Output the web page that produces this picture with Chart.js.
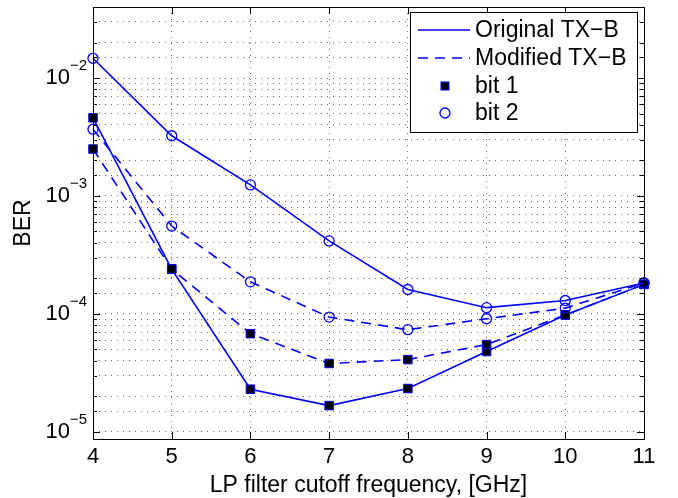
<!DOCTYPE html>
<html>
<head>
<meta charset="utf-8">
<script src="https://cdn.jsdelivr.net/npm/chart.js@4.4.0/dist/chart.umd.min.js"></script>
<style>
    html, body { margin: 0; padding: 0; background: #fff; }
    #wrap { width: 678px; height: 498px; }
</style>
</head>
<body>
<div id="wrap"><canvas id="berChart" width="678" height="498"></canvas></div>
<script>
// values
var cutoffGHz = [4, 5, 6, 7, 8, 9, 10, 11];
var origBit1 = [4.6e-3, 2.4e-4, 2.3e-5, 1.67e-5, 2.33e-5, 4.8e-5, 9.8e-5, 1.78e-4];
var origBit2 = [1.47e-2, 3.24e-3, 1.24e-3, 4.16e-4, 1.61e-4, 1.13e-4, 1.30e-4, 1.83e-4];
var modBit1 = [2.5e-3, 2.4e-4, 6.8e-5, 3.8e-5, 4.1e-5, 5.5e-5, 9.8e-5, 1.78e-4];
var modBit2 = [3.68e-3, 5.56e-4, 1.87e-4, 9.4e-5, 7.35e-5, 9.1e-5, 1.12e-4, 1.83e-4];

var yDecades = [-5, -4, -3, -2];
var legendLabels = ['Original TX\u2212B', 'Modified TX\u2212B', 'bit 1', 'bit 2'];
var xTitle = 'LP filter cutoff frequency, [GHz]';
var yTitle = 'BER';

var FONT = "'Liberation Sans', Arial, Helvetica, sans-serif";
var BLUE = '#0000ff';
var DASH = [10, 7];

function points(values) {
    let out = [];
    for (let i = 0; i < cutoffGHz.length; i++) {
        out.push({x: cutoffGHz[i], y: values[i]});
    }
    return out;
}

function series(label, values, dashed, square) {
    return {
        label: label,
        data: points(values),
        borderColor: BLUE,
        borderWidth: 1.6,
        borderDash: dashed ? DASH : [],
        pointStyle: square ? 'rect' : 'circle',
        pointRadius: square ? 6 : 5,
        pointBorderWidth: square ? 1 : 1.3,
        pointBorderColor: BLUE,
        pointBackgroundColor: square ? '#000' : 'rgba(0,0,0,0)',
        tension: 0,
        clip: false
    };
}

// y tick labels as 10 with a superscript exponent
var decadeLabels = {
    id: 'decadeLabels',
    afterDraw: function (chart) {
        let ctx = chart.ctx;
        let y = chart.scales.y;
        ctx.save();
        ctx.fillStyle = '#000';
        for (let i = 0; i < yDecades.length; i++) {
            let py = y.getPixelForValue(Math.pow(10, yDecades[i]));
            ctx.font = '22px ' + FONT;
            ctx.textAlign = 'right';
            ctx.textBaseline = 'middle';
            ctx.fillText('10', 70, py);
            ctx.font = '15px ' + FONT;
            ctx.textAlign = 'left';
            ctx.fillText('\u2212' + Math.abs(yDecades[i]), 70, py - 12);
        }
        ctx.restore();
    }
};

// axes box with inward ticks, like the original figure
var frameBox = {
    id: 'frameBox',
    afterDatasetsDraw: function (chart) {
        let ctx = chart.ctx;
        let a = chart.chartArea;
        let xs = chart.scales.x;
        let ys = chart.scales.y;
        ctx.save();
        ctx.strokeStyle = '#000';
        ctx.lineWidth = 1;
        ctx.setLineDash([]);
        ctx.strokeRect(Math.round(a.left) + 0.5, Math.round(a.top) + 0.5,
            Math.round(a.right - a.left), Math.round(a.bottom - a.top));
        ctx.beginPath();
        xs.ticks.forEach(function (t) {
            let px = Math.round(xs.getPixelForValue(t.value)) + 0.5;
            ctx.moveTo(px, a.bottom);
            ctx.lineTo(px, a.bottom - 7);
            ctx.moveTo(px, a.top);
            ctx.lineTo(px, a.top + 7);
        });
        ys.ticks.forEach(function (t) {
            let py = Math.round(ys.getPixelForValue(t.value)) + 0.5;
            let len = t.major ? 7 : 4;
            ctx.moveTo(a.left, py);
            ctx.lineTo(a.left + len, py);
            ctx.moveTo(a.right, py);
            ctx.lineTo(a.right - len, py);
        });
        ctx.stroke();
        ctx.restore();
    }
};

var boxLegend = {
    id: 'boxLegend',
    afterDraw: function (chart) {
        let ctx = chart.ctx;
        let left = 410, top = 12, w = 227, h = 120;
        let rows = [30, 58, 86, 113];
        ctx.save();
        ctx.fillStyle = '#fff';
        ctx.fillRect(left, top, w, h);
        ctx.strokeStyle = '#000';
        ctx.lineWidth = 1;
        ctx.strokeRect(left + 0.5, top + 0.5, w, h);

        ctx.strokeStyle = BLUE;
        ctx.lineWidth = 1.6;
        ctx.beginPath();
        ctx.moveTo(418, rows[0]);
        ctx.lineTo(470, rows[0]);
        ctx.stroke();
        ctx.setLineDash(DASH);
        ctx.beginPath();
        ctx.moveTo(418, rows[1]);
        ctx.lineTo(470, rows[1]);
        ctx.stroke();
        ctx.setLineDash([]);

        ctx.fillStyle = '#000';
        ctx.lineWidth = 1;
        ctx.fillRect(441, rows[2] - 4, 8, 8);
        ctx.strokeRect(441, rows[2] - 4, 8, 8);
        ctx.lineWidth = 1.3;
        ctx.beginPath();
        ctx.arc(445, rows[3], 5, 0, Math.PI * 2);
        ctx.stroke();

        ctx.font = '23px ' + FONT;
        ctx.textAlign = 'left';
        ctx.textBaseline = 'middle';
        for (let i = 0; i < legendLabels.length; i++) {
            ctx.fillText(legendLabels[i], 475, rows[i] + 1);
        }
        ctx.restore();
    }
};

var chart = new Chart(document.getElementById('berChart'), {
    type: 'line',
    data: {
        datasets: [
            series('Original TX\u2212B bit 2', origBit2, false, false),
            series('Modified TX\u2212B bit 2', modBit2, true, false),
            series('Modified TX\u2212B bit 1', modBit1, true, true),
            series('Original TX\u2212B bit 1', origBit1, false, true)
        ]
    },
    options: {
        responsive: false,
        devicePixelRatio: 1,
        animation: false,
        layout: {padding: {top: 3, right: 34, left: 0, bottom: 0}},
        plugins: {
            legend: {display: false},
            tooltip: {enabled: false}
        },
        scales: {
            x: {
                type: 'linear',
                min: 4,
                max: 11,
                ticks: {
                    stepSize: 1,
                    color: '#000',
                    font: {family: FONT, size: 22, lineHeight: 1},
                    padding: 7,
                    maxRotation: 0,
                    autoSkip: false
                },
                grid: {color: 'rgba(0,0,0,0.6)', lineWidth: 1, drawTicks: false},
                border: {display: false, dash: [1, 5]},
                title: {
                    display: true,
                    text: xTitle,
                    color: '#000',
                    font: {family: FONT, size: 23, lineHeight: 1},
                    padding: {top: 0, bottom: 1}
                },
                afterFit: function (scale) {
                    scale.height = 59;
                }
            },
            y: {
                type: 'logarithmic',
                min: 8.7e-6,
                max: 0.04,
                ticks: {display: false, autoSkip: false},
                grid: {color: 'rgba(0,0,0,0.6)', lineWidth: 1, drawTicks: false},
                border: {display: false, dash: [1, 5]},
                title: {
                    display: true,
                    text: yTitle,
                    color: '#000',
                    font: {family: FONT, size: 23, lineHeight: 1},
                    padding: {top: 12, bottom: 0}
                },
                afterFit: function (scale) {
                    scale.width = 93;
                }
            }
        }
    },
    plugins: [frameBox, decadeLabels, boxLegend]
});
</script>
</body>
</html>
